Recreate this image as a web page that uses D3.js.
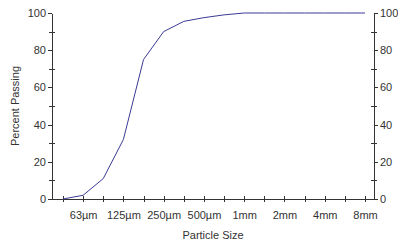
<!DOCTYPE html>
<html>
<head>
<meta charset="utf-8">
<script src="https://cdn.jsdelivr.net/npm/d3@7"></script>
<style>
  body{margin:0;background:#fff;}
  svg text{font-family:"Liberation Sans",Arial,sans-serif;font-size:11px;fill:#333;}
  .axis path,.axis line{stroke:#333;shape-rendering:crispEdges;}
</style>
</head>
<body>
<div id="chart"></div>
<script>
// sieve sizes (µm) and cumulative percent passing
const sieveSizes=[45,63,90,125,180,250,355,500,710,1000,1400,2000,2800,4000,5600,8000];
const percentPassing=[0,2,11,32,75,90,95.5,97.5,99,100,100,100,100,100,100,100];
const sizeLabels=[63,125,250,500,1000,2000,4000,8000];
const yTicks=[0,10,20,30,40,50,60,70,80,90,100];
const yLabels=[0,20,40,60,80,100];

const width=398,height=242;
const mLeft=52,mRight=374,mTop=13,mBottom=199;

const svg=d3.select("#chart").append("svg")
    .attr("width",width).attr("height",height);

const x=d3.scalePoint().domain(sieveSizes).range([63,365]);
const y=d3.scaleLinear().domain([0,100]).range([mBottom,mTop]);

function fmtSize(v){
    return v>=1000? (v/1000)+"mm" : v+"\u00b5m";
}

// x axis
const xAxis=d3.axisBottom(x).tickValues(sieveSizes).tickSizeInner(3).tickSizeOuter(0).tickPadding(9)
    .tickFormat(function(v){return sizeLabels.indexOf(v)>=0?fmtSize(v):"";});
const gx=svg.append("g").attr("class","x axis")
    .attr("transform","translate(0,"+mBottom+")").call(xAxis);
gx.select(".domain").attr("d","M"+mLeft+",0.5H"+mRight);
gx.selectAll(".tick line").attr("y1",-3);

// left y axis
const yAxisL=d3.axisLeft(y).tickValues(yTicks).tickSizeInner(4).tickSizeOuter(0).tickPadding(2)
    .tickFormat(function(v){return yLabels.indexOf(v)>=0?v:"";});
const gl=svg.append("g").attr("class","y axis")
    .attr("transform","translate("+mLeft+",0)").call(yAxisL);
gl.selectAll(".tick line").attr("x2",function(v){return yLabels.indexOf(v)>=0?-4:-3;})
    .attr("x1",function(v){return yLabels.indexOf(v)>=0?0:3;});

// right y axis
const yAxisR=d3.axisRight(y).tickValues(yTicks).tickSizeInner(4).tickSizeOuter(0).tickPadding(2)
    .tickFormat(function(v){return yLabels.indexOf(v)>=0?v:"";});
const gr=svg.append("g").attr("class","y axis")
    .attr("transform","translate("+mRight+",0)").call(yAxisR);
gr.selectAll(".tick line").attr("x2",function(v){return yLabels.indexOf(v)>=0?4:3;})
    .attr("x1",function(v){return yLabels.indexOf(v)>=0?0:-3;});

// curve
const line=d3.line().x(function(d){return x(d[0]);}).y(function(d){return y(d[1]);});
svg.append("path")
    .datum(d3.zip(sieveSizes,percentPassing))
    .attr("d",line)
    .attr("fill","none").attr("stroke","#3b3b96").attr("stroke-width",1);

// titles
svg.append("text").attr("x",213).attr("y",239).attr("text-anchor","middle").text("Particle Size");
svg.append("text").attr("transform","translate(19,106) rotate(-90)")
    .attr("text-anchor","middle").text("Percent Passing");
</script>
</body>
</html>
